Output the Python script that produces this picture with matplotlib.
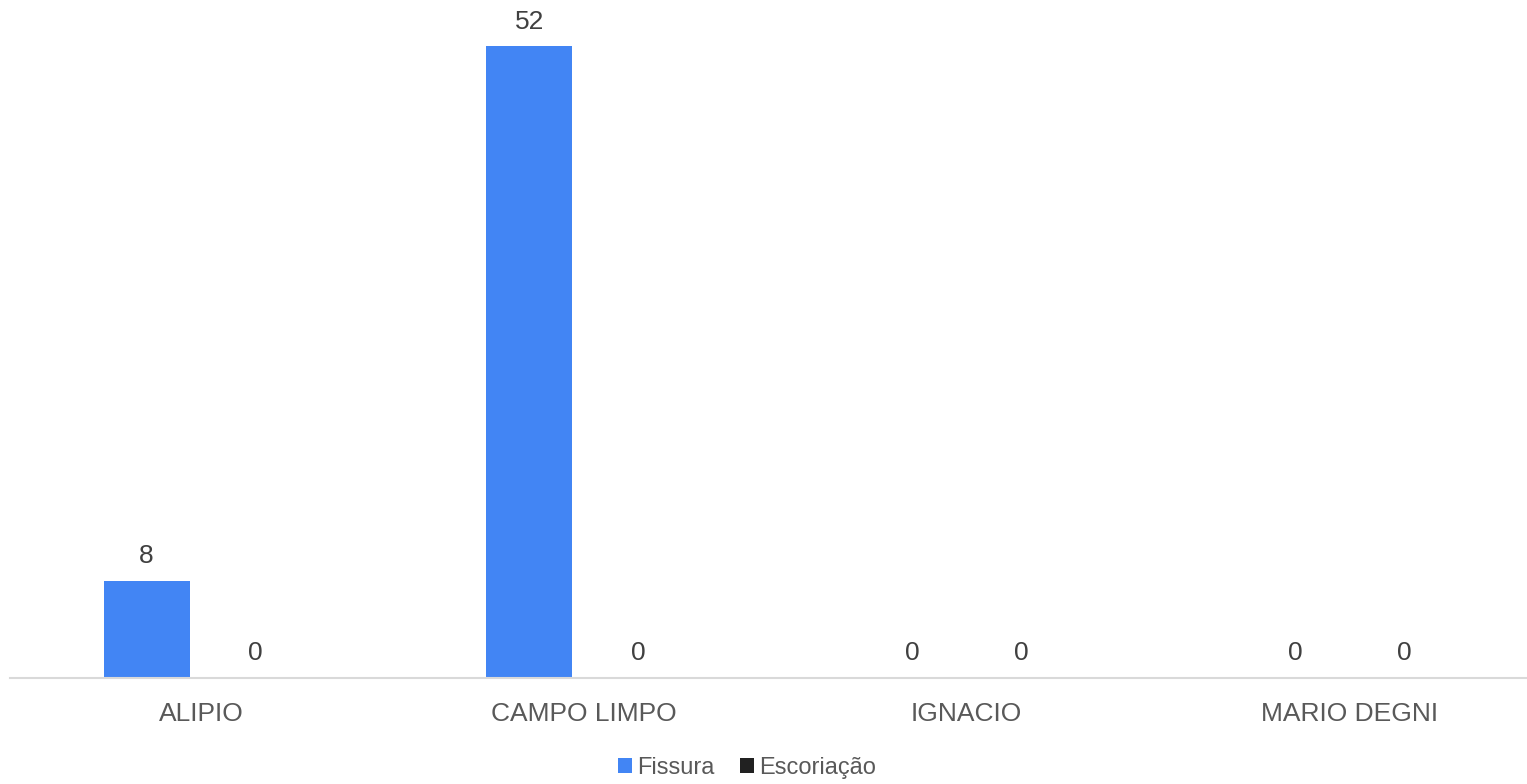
import numpy as np
import matplotlib
matplotlib.use('Agg')
import matplotlib.pyplot as plt

# chart data
categories = ['ALIPIO', 'CAMPO LIMPO', 'IGNACIO', 'MARIO DEGNI']
fissura = [8, 52, 0, 0]
escoriacao = [0, 0, 0, 0]

plt.rcParams['font.family'] = ['Liberation Sans', 'DejaVu Sans']
text_color = '#595959'
value_color = '#404040'

fig = plt.figure(figsize=(15.27, 7.84), dpi=100)
# axes a bit wider than the figure, like the cropped original
ax = fig.add_axes([9.5 / 1527, 106 / 784, 1531.5 / 1527, 678 / 784])

x = np.arange(len(categories))
w = 0.2245
off = 0.142
b1 = ax.bar(x - off, fissura, w, color='#4285f4', label='Fissura')
b2 = ax.bar(x + off, escoriacao, w, color='#212121', label='Escoriação')

for bars, vals in [(b1, fissura), (b2, escoriacao)]:
    for rect, v in zip(bars, vals):
        ax.annotate(str(v), (rect.get_x() + rect.get_width() / 2, v),
                    xytext=(0, 9), textcoords='offset points',
                    ha='center', va='bottom', fontsize=19, color=value_color)

ax.set_xlim(-0.5, 3.5)
ax.set_ylim(0, 55.8)
ax.set_xticks(x)
ax.set_xticklabels(categories, fontsize=19, color=text_color)
ax.tick_params(axis='x', length=0, pad=17.5)
ax.set_yticks([])
for s in ['top', 'right', 'left']:
    ax.spines[s].set_visible(False)
ax.spines['bottom'].set_color('#d9d9d9')
ax.spines['bottom'].set_linewidth(1.5)

leg = fig.legend(loc='center', bbox_to_anchor=(747 / 1527, 1 - 768 / 784), ncol=2,
                 frameon=False, fontsize=17, handlelength=0.6, handleheight=0.6,
                 handletextpad=0.2, columnspacing=1.1)
for t in leg.get_texts():
    t.set_color(text_color)

fig.savefig('out.png', dpi=100)
